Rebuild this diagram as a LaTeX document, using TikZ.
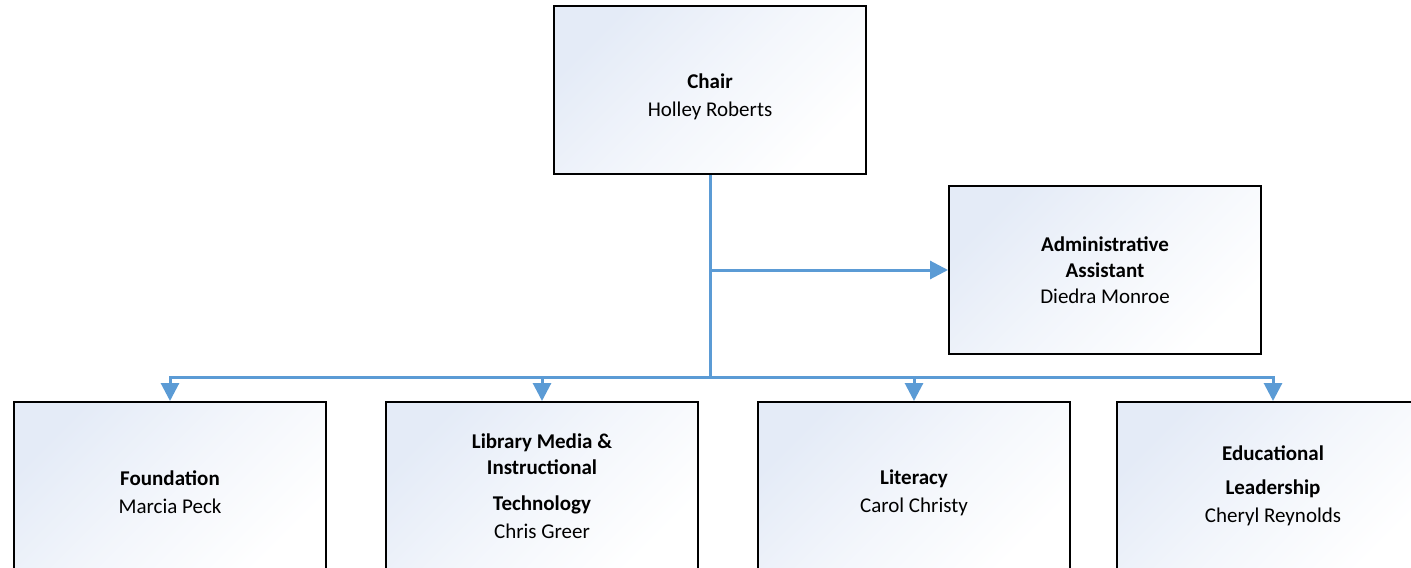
\documentclass[tikz,border=0pt]{standalone}
\usepackage{fontspec}
\setmainfont{Carlito}
\usetikzlibrary{arrows.meta,positioning}
\definecolor{linkblue}{RGB}{91,155,213}
\definecolor{boxtint}{RGB}{228,235,247}

\tikzset{
  unit box/.style={draw=black, line width=1pt, top color=boxtint, bottom color=white,
    middle color=white!55!boxtint, shading angle=45, minimum width=156pt, minimum height=84pt,
    inner sep=0pt, align=center, font=\fontsize{10.5}{13}\selectfont},
  link/.style={draw=linkblue, line width=1.5pt},
  link arrow/.style={link, -{Triangle[width=9pt,length=9pt]}},
}

\begin{document}
\begin{tikzpicture}[x=0.5pt,y=-0.5pt]
    \useasboundingbox (0,0) rectangle (1411,567);

    % head of the department
    \node[unit box] (chair) at (710,90) {\rule{0pt}{14pt}\textbf{Chair}\\[1pt]Holley Roberts};
    \node[unit box] (admin) at (1105,270) {\textbf{Administrative}\\\textbf{Assistant}\\Diedra Monroe};

    % programme boxes
    \node[unit box] (found) at (170,486) {\rule{0pt}{14pt}\textbf{Foundation}\\[1pt]Marcia Peck};
    \node[unit box] (lib) at (542,486) {\textbf{Library Media \&}\\\textbf{Instructional}\\[5pt]\textbf{Technology}\\[1pt]Chris Greer};
    \node[unit box] (lit) at (914,486) {\rule{0pt}{14pt}\textbf{Literacy}\\[1pt]Carol Christy};
    \node[unit box] (edu) at (1273,486) {\textbf{Educational}\\[4pt]\textbf{Leadership}\\[1pt]Cheryl Reynolds};

    \coordinate (bus) at (710,377);
    \draw[link] (chair.south) -- (bus);
    \draw[link arrow] (chair.south |- admin.west) -- (admin.west);
    \foreach \b in {found,lib,lit,edu}
      \draw[link arrow] (bus) -| (\b.north);
\end{tikzpicture}
\end{document}
